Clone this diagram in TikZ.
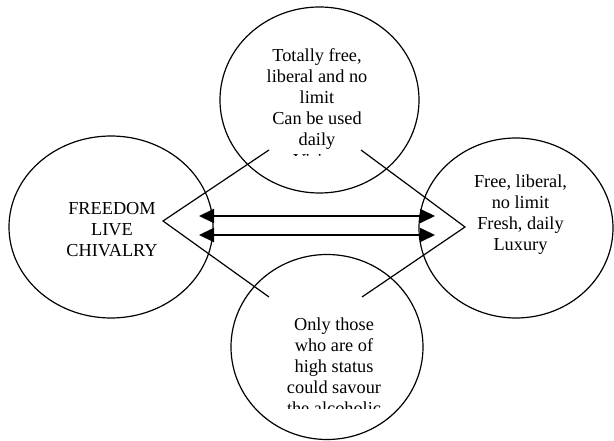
\documentclass[tikz,border=0pt]{standalone}
\usepackage{fontspec}
\setmainfont{Liberation Serif}
\usetikzlibrary{shapes.geometric,arrows.meta}
\begin{document}
\begin{tikzpicture}[x=1pt,y=-1pt,
  bubble/.style={draw,ellipse,line width=1.2pt,inner sep=0pt,outer sep=0pt},
  caption/.style={align=center,inner sep=0pt,anchor=north,
    font=\fontsize{18.3}{21}\selectfont},
  wedge/.style={line width=1.2pt,line join=miter},
  link/.style={line width=2pt,
    {Triangle[length=15pt,width=14pt]}-{Triangle[length=15pt,width=14pt]}}]
\useasboundingbox (0,0) rectangle (614,441);

% the four bubbles
\node[bubble,minimum width=199pt,minimum height=186pt] (top) at (319.5,100) {};
\node[bubble,minimum width=204pt,minimum height=182pt] (left) at (111,227) {};
\node[bubble,minimum width=194pt,minimum height=180pt] (right) at (516,228) {};
\node[bubble,minimum width=192pt,minimum height=185pt] (bottom) at (327,347) {};

% texts (the long ones are cut off at the bottom)
\begin{scope}
  \clip (0,0) rectangle (614,155.5);
  \node[caption] (toptext) at (317,48.5)
    {Totally free,\\liberal and no\\limit\\Can be used\\daily\\Vision};
\end{scope}
\node[caption] (lefttext) at (112,202) {FREEDOM\\LIVE\\CHIVALRY};
\node[caption] (righttext) at (520.5,174.5)
  {Free, liberal,\\no limit\\Fresh, daily\\Luxury};
\begin{scope}
  \clip (0,0) rectangle (614,408);
  \node[caption] (bottomtext) at (334,317.5)
    {Only those\\who are of\\high status\\could savour\\the alcoholic};
\end{scope}

% the two open wedges
\coordinate (lwa) at (269,150);
\coordinate (lwv) at (163,221);
\coordinate (lwb) at (269,297);
\coordinate (rwa) at (361,150);
\coordinate (rwv) at (465,227);
\coordinate (rwb) at (362,297);
\draw[wedge] (lwa) -- (lwv) -- (lwb);
\draw[wedge] (rwa) -- (rwv) -- (rwb);

% the two double-headed arrows
\coordinate (la1) at (199,216);
\coordinate (ra1) at (435,216);
\coordinate (la2) at (199,235);
\coordinate (ra2) at (435,235);
\draw[link] (la1) -- (ra1);
\draw[link] (la2) -- (ra2);
\end{tikzpicture}
\end{document}
